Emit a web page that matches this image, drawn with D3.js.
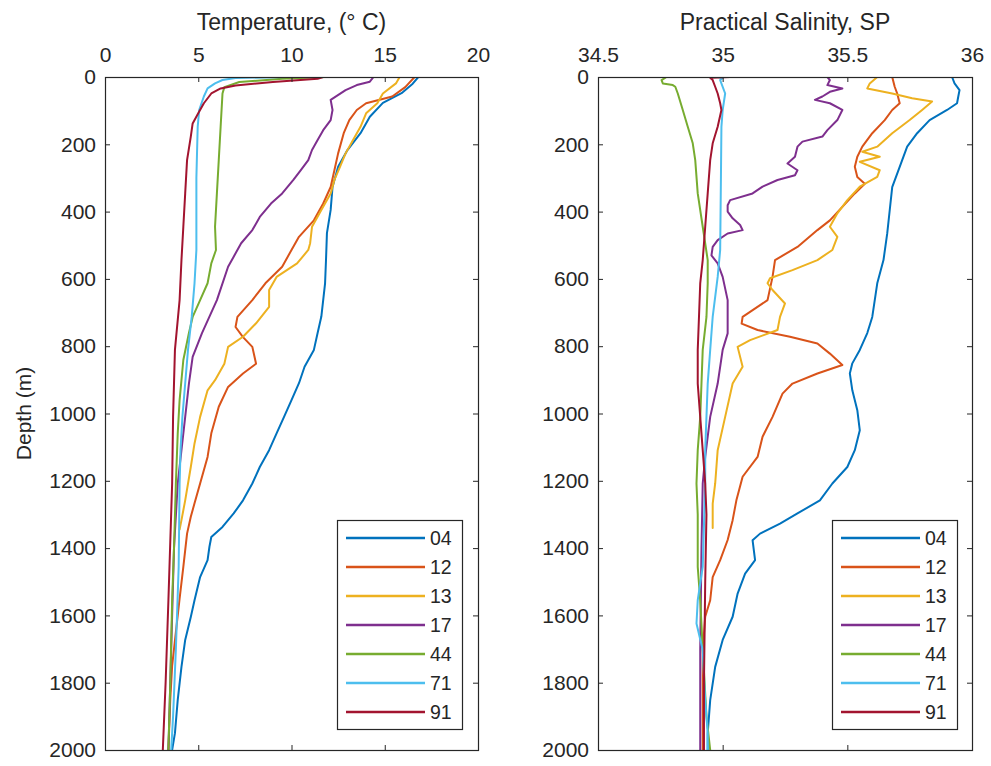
<!DOCTYPE html>
<html>
<head>
<meta charset="utf-8">
<script src="https://cdn.jsdelivr.net/npm/d3@7"></script>
<style>
  html, body { margin: 0; padding: 0; background: #fff; }
  svg { display: block; }
  text { font-family: "Liberation Sans", Arial, Helvetica, sans-serif; fill: #262626; }
</style>
</head>
<body>
<div id="chart"></div>
<script>
// ---------------- data (depth in m, value) ----------------
const seriesNames = ["04", "12", "13", "17", "44", "71", "91"];
const seriesColors = ["#0072BD", "#D95319", "#EDB120", "#7E2F8E", "#77AC30", "#4DBEEE", "#A2142F"];

const tempTicks = [0, 5, 10, 15, 20];
const salTicks = [34.5, 35, 35.5, 36];
const depthTicks = [0, 200, 400, 600, 800, 1000, 1200, 1400, 1600, 1800, 2000];

// Temperature profiles [depth, T]
const temp04 = [[0,16.8],[20,16.5],[48,15.9],[77,14.9],[118,14.2],[167,13.7],[217,13.0],[267,12.5],[327,12.2],[395,12.1],[464,11.9],[544,11.85],[613,11.8],[712,11.6],[761,11.4],[811,11.2],[861,10.7],[910,10.4],[960,10.0],[1010,9.6],[1059,9.2],[1109,8.8],[1159,8.3],[1208,7.9],[1258,7.4],[1297,6.9],[1337,6.3],[1367,5.7],[1396,5.6],[1436,5.5],[1486,5.1],[1555,4.8],[1605,4.6],[1673,4.3],[1753,4.1],[1851,3.9],[1950,3.75],[2000,3.6]];
const temp12 = [[0,16.6],[30,16.1],[58,15.4],[78,14.0],[98,13.5],[128,13.1],[167,12.8],[227,12.5],[277,12.3],[327,12.1],[376,11.7],[426,11.2],[475,10.4],[514,10.0],[564,9.5],[613,8.6],[663,7.9],[713,7.1],[743,7.0],[773,7.4],[802,7.9],[852,8.1],[881,7.4],[921,6.6],[980,6.1],[1059,5.7],[1129,5.5],[1208,5.1],[1267,4.8],[1307,4.6],[1357,4.4],[1456,4.2],[1550,4.0],[1650,3.8],[1750,3.6],[1850,3.5],[2000,3.4]];
const temp13 = [[0,15.8],[19,15.6],[49,14.9],[78,14.6],[108,14.0],[148,13.7],[187,13.3],[227,12.9],[267,12.6],[306,12.3],[346,12.1],[395,11.6],[445,11.1],[494,11.0],[514,10.9],[554,10.3],[594,9.2],[633,8.8],[683,8.8],[732,8.1],[772,7.4],[802,6.6],[852,6.4],[901,5.9],[931,5.5],[1010,5.1],[1089,4.8],[1159,4.6],[1258,4.3],[1317,4.1],[1345,4.0]];
const temp17 = [[0,14.4],[14,14.2],[24,13.5],[39,12.9],[68,12.1],[98,12.2],[128,12.1],[158,11.7],[187,11.4],[217,11.1],[247,10.9],[277,10.5],[306,10.1],[346,9.5],[376,8.9],[416,8.3],[455,7.9],[494,7.3],[534,6.9],[564,6.6],[663,6.0],[761,5.2],[832,4.7],[911,4.5],[1010,4.3],[1109,4.1],[1208,3.9],[1400,3.7],[1600,3.6],[1800,3.5],[2000,3.4]];
const temp44 = [[0,11.8],[5,9.5],[15,7.2],[30,6.4],[49,6.3],[148,6.2],[247,6.1],[346,6.0],[445,5.9],[514,5.95],[554,5.7],[613,5.5],[663,5.1],[713,4.7],[761,4.5],[841,4.2],[960,4.0],[1059,3.9],[1208,3.8],[1400,3.7],[1555,3.6],[1800,3.5],[2000,3.4]];
const temp71 = [[0,9.7],[3,7.0],[9,6.3],[19,5.9],[34,5.5],[58,5.3],[98,5.05],[148,4.97],[300,4.9],[514,4.9],[613,4.8],[713,4.65],[811,4.45],[910,4.3],[1010,4.15],[1109,4.05],[1208,4.0],[1456,3.95],[1700,3.8],[1900,3.65],[2000,3.55]];
const temp91 = [[0,11.7],[5,11.4],[15,9.0],[25,7.0],[34,6.2],[49,5.7],[78,5.3],[108,5.0],[138,4.7],[177,4.6],[247,4.4],[346,4.3],[445,4.2],[544,4.1],[663,4.0],[811,3.75],[1010,3.65],[1208,3.6],[1555,3.4],[1800,3.25],[2000,3.1]];

// Practical salinity profiles [depth, SP]
const sal04 = [[0,35.92],[19,35.93],[39,35.95],[58,35.945],[78,35.94],[98,35.90],[128,35.83],[167,35.78],[207,35.74],[247,35.72],[287,35.70],[327,35.68],[396,35.67],[465,35.66],[544,35.645],[613,35.62],[713,35.60],[761,35.58],[811,35.55],[851,35.52],[881,35.51],[931,35.52],[990,35.54],[1050,35.55],[1109,35.53],[1159,35.50],[1208,35.44],[1258,35.39],[1297,35.30],[1327,35.23],[1357,35.15],[1377,35.12],[1436,35.13],[1476,35.09],[1535,35.06],[1604,35.04],[1673,35.00],[1753,34.97],[1852,34.95],[1951,34.94],[2000,34.94]];
const sal12 = [[0,35.68],[29,35.69],[49,35.70],[78,35.71],[98,35.68],[128,35.65],[167,35.60],[207,35.56],[237,35.54],[267,35.53],[297,35.54],[317,35.57],[346,35.53],[386,35.48],[426,35.43],[455,35.38],[505,35.30],[544,35.21],[594,35.20],[663,35.18],[713,35.08],[733,35.076],[752,35.14],[772,35.27],[792,35.38],[822,35.43],[856,35.48],[881,35.38],[911,35.28],[941,35.24],[1010,35.20],[1069,35.16],[1129,35.14],[1188,35.08],[1258,35.055],[1317,35.04],[1376,35.02],[1436,34.99],[1486,34.96],[1555,34.95],[1604,34.93],[1703,34.92],[1800,34.92],[2000,34.92]];
const sal13 = [[0,35.62],[19,35.59],[34,35.58],[49,35.68],[63,35.76],[73,35.84],[98,35.80],[128,35.75],[167,35.68],[207,35.62],[222,35.56],[237,35.63],[252,35.55],[277,35.63],[297,35.62],[326,35.55],[366,35.50],[405,35.46],[445,35.43],[475,35.46],[514,35.44],[544,35.38],[574,35.28],[598,35.19],[613,35.18],[633,35.20],[673,35.25],[713,35.23],[752,35.22],[782,35.11],[802,35.06],[861,35.08],[911,35.04],[1010,35.01],[1109,34.98],[1208,34.97],[1268,34.96],[1340,34.96]];
const sal17 = [[0,35.42],[9,35.43],[24,35.42],[34,35.48],[44,35.43],[58,35.40],[68,35.37],[78,35.43],[98,35.48],[128,35.46],[158,35.42],[177,35.40],[192,35.32],[207,35.30],[237,35.29],[257,35.26],[277,35.30],[292,35.29],[306,35.22],[326,35.16],[346,35.12],[366,35.03],[381,35.02],[400,35.02],[420,35.04],[440,35.07],[455,35.08],[465,35.02],[485,34.98],[505,34.96],[530,34.955],[554,34.98],[594,35.00],[663,35.02],[762,35.02],[811,35.00],[911,34.98],[1010,34.95],[1069,34.94],[1129,34.93],[1208,34.92],[1400,34.915],[1700,34.91],[2000,34.91]];
const sal44 = [[0,34.775],[9,34.755],[19,34.76],[24,34.80],[29,34.81],[49,34.82],[98,34.84],[148,34.86],[197,34.88],[247,34.89],[346,34.90],[445,34.92],[544,34.94],[613,34.94],[713,34.935],[811,34.92],[911,34.915],[1010,34.91],[1109,34.90],[1208,34.895],[1300,34.90],[1456,34.90],[1555,34.91],[1700,34.92],[1900,34.935],[2000,34.95]];
const sal71 = [[0,34.98],[3,35.00],[9,34.99],[49,35.01],[98,35.00],[148,34.995],[300,34.993],[514,34.99],[594,34.98],[713,34.96],[811,34.95],[911,34.94],[1010,34.935],[1109,34.93],[1208,34.93],[1456,34.92],[1555,34.90],[1624,34.895],[1703,34.92],[1852,34.93],[1950,34.94],[2000,34.94]];
const sal91 = [[0,35.03],[2,34.95],[9,34.96],[29,34.97],[49,34.98],[78,34.99],[98,34.995],[148,34.98],[197,34.96],[247,34.95],[346,34.94],[445,34.93],[544,34.92],[613,34.91],[713,34.905],[811,34.90],[911,34.90],[1010,34.91],[1109,34.92],[1208,34.93],[1300,34.935],[1500,34.93],[1800,34.925],[2000,34.925]];

const tempSeries = [temp04, temp12, temp13, temp17, temp44, temp71, temp91];
const salSeries = [sal04, sal12, sal13, sal17, sal44, sal71, sal91];

// ---------------- drawing ----------------
const W = 991, H = 766;
const svg = d3.select("#chart").append("svg").attr("width", W).attr("height", H);
svg.append("rect").attr("width", W).attr("height", H).attr("fill", "#fff");

const yTop = 77, yBottom = 750;
const axisColor = "#262626";
const tickFont = 21;

function panel(opts) {
  const { x0, x1, domain, ticks, series, title, tickFmt, showYLabel, legendX } = opts;
  const x = d3.scaleLinear().domain(domain).range([x0, x1]);
  const y = d3.scaleLinear().domain([0, 2000]).range([yTop, yBottom]);
  const g = svg.append("g");

  // data lines
  const clipId = "clip" + Math.round(x0);
  svg.append("clipPath").attr("id", clipId)
    .append("rect").attr("x", x0).attr("y", yTop).attr("width", x1 - x0).attr("height", yBottom - yTop);
  const line = d3.line().x(d => x(d[1])).y(d => y(d[0]));
  const lg = g.append("g").attr("clip-path", `url(#${clipId})`);
  series.forEach((s, i) => {
    lg.append("path").attr("d", line(s)).attr("fill", "none")
      .attr("stroke", seriesColors[i]).attr("stroke-width", 2)
      .attr("stroke-linejoin", "round").attr("stroke-linecap", "round");
  });

  // axes
  const styleAxis = sel => {
    sel.select(".domain").remove();
    sel.selectAll(".tick line").attr("stroke", axisColor).attr("stroke-width", 1);
    sel.selectAll(".tick text").attr("fill", axisColor).attr("font-size", tickFont)
      .attr("font-family", '"Liberation Sans", Arial, sans-serif');
  };
  g.append("g").attr("transform", `translate(0,${yTop})`)
    .call(d3.axisTop(x).tickValues(ticks).tickFormat(tickFmt).tickSize(-5).tickPadding(15))
    .call(styleAxis);
  g.append("g").attr("transform", `translate(0,${yBottom})`)
    .call(d3.axisBottom(x).tickValues(ticks).tickFormat("").tickSize(-5))
    .call(styleAxis);
  g.append("g").attr("transform", `translate(${x0},0)`)
    .call(d3.axisLeft(y).tickValues(depthTicks).tickFormat(d3.format("d")).tickSize(-5).tickPadding(9))
    .call(styleAxis);
  g.append("g").attr("transform", `translate(${x1},0)`)
    .call(d3.axisRight(y).tickValues(depthTicks).tickFormat("").tickSize(-5))
    .call(styleAxis);

  g.append("rect").attr("x", x0 + 0.5).attr("y", yTop + 0.5)
    .attr("width", x1 - x0).attr("height", yBottom - yTop)
    .attr("fill", "none").attr("stroke", axisColor).attr("stroke-width", 1.2);

  // title
  g.append("text").attr("x", (x0 + x1) / 2).attr("y", 30)
    .attr("text-anchor", "middle").attr("font-size", 23).text(title);

  if (showYLabel) {
    g.append("text").attr("transform", `translate(31,${(yTop + yBottom) / 2}) rotate(-90)`)
      .attr("text-anchor", "middle").attr("font-size", 21).text("Depth (m)");
  }

  // legend
  const lx = legendX, ly = 520, lw = 125, lh = 209;
  const leg = g.append("g");
  leg.append("rect").attr("x", lx + 0.5).attr("y", ly + 0.5).attr("width", lw).attr("height", lh)
    .attr("fill", "#fff").attr("stroke", axisColor).attr("stroke-width", 1.2);
  seriesNames.forEach((n, i) => {
    const cy = 538 + i * 29;
    leg.append("line").attr("x1", lx + 9).attr("x2", lx + 88).attr("y1", cy).attr("y2", cy)
      .attr("stroke", seriesColors[i]).attr("stroke-width", 2.5);
    leg.append("text").attr("x", lx + 93).attr("y", cy).attr("dy", "0.36em")
      .attr("font-size", 19.5).text(n);
  });
}

panel({
  x0: 105, x1: 478, domain: [0, 20], ticks: tempTicks, series: tempSeries,
  title: "Temperature, (\u00B0 C)", tickFmt: d3.format("d"), showYLabel: true, legendX: 337
});
panel({
  x0: 598, x1: 972, domain: [34.5, 36], ticks: salTicks, series: salSeries,
  title: "Practical Salinity, SP", tickFmt: d => String(d), showYLabel: false, legendX: 832
});
</script>
</body>
</html>
